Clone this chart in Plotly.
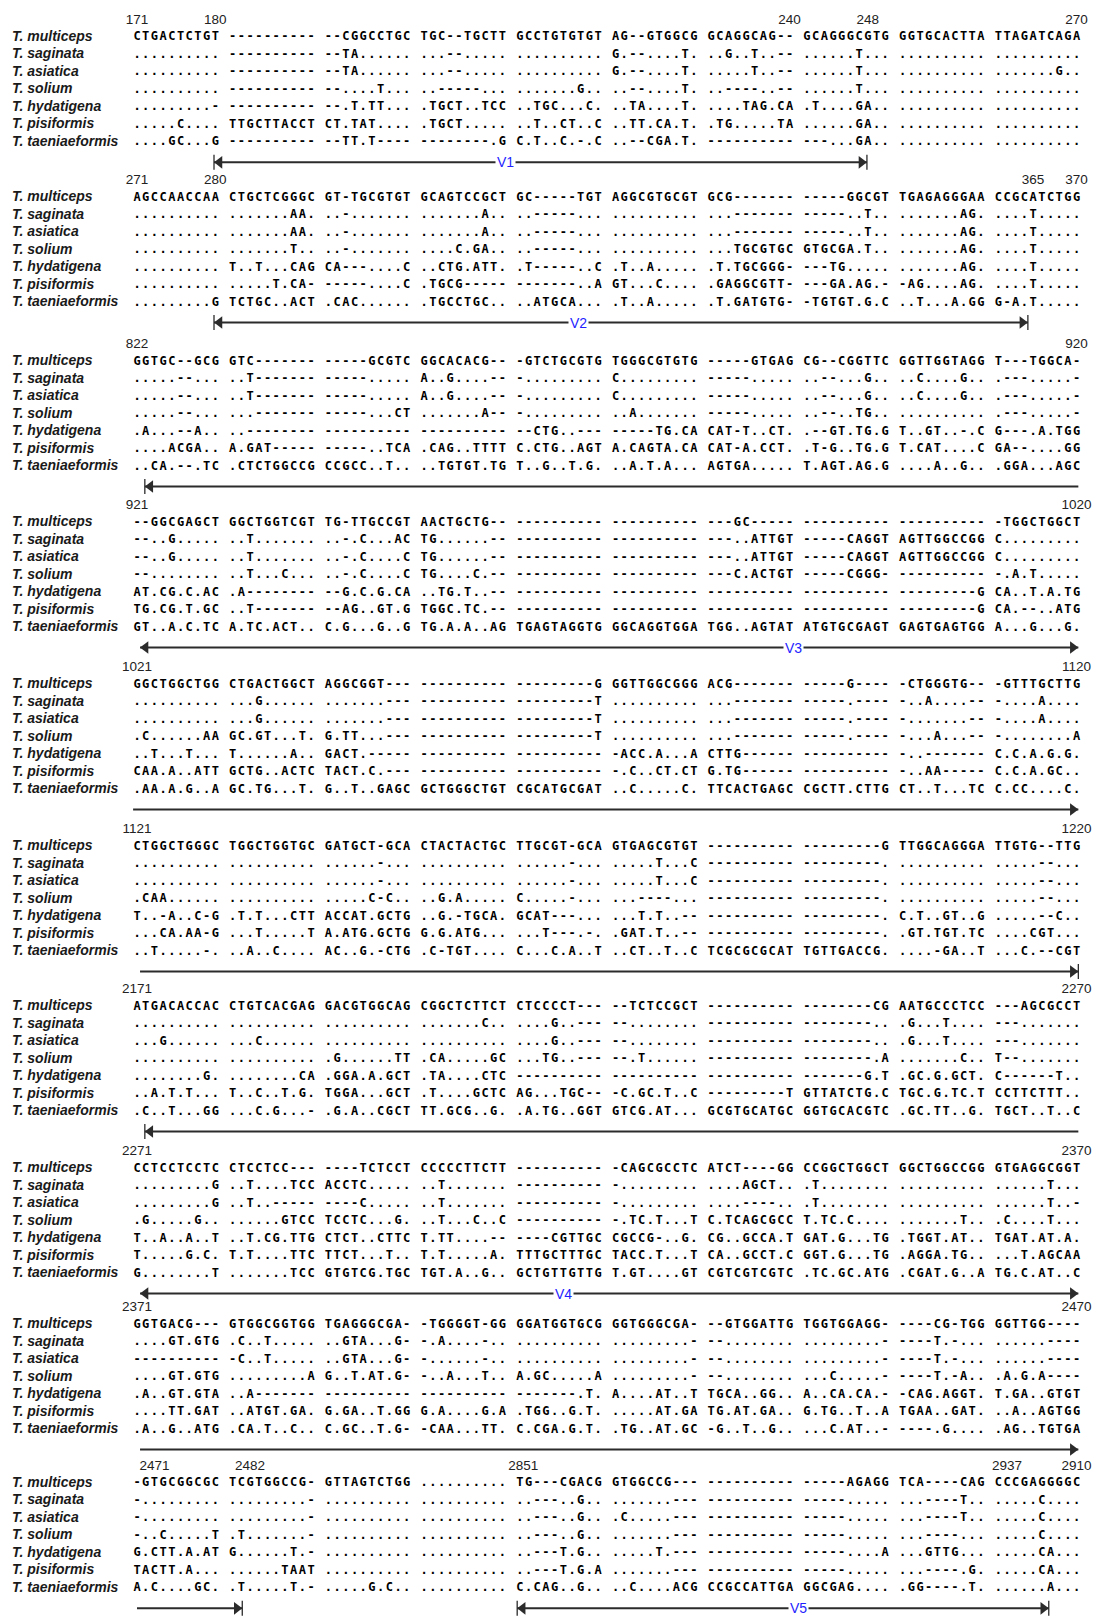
import plotly.graph_objects as go

# ---------------------------------------------------------------- data
SPECIES = [
    "T. multiceps", "T. saginata", "T. asiatica", "T. solium",
    "T. hydatigena", "T. pisiformis", "T. taeniaeformis",
]

# Aligned sequences, one block per panel, rows in SPECIES order.
# Groups of ten columns are separated by a single space.
BLOCK_1 = [
    "CTGACTCTGT ---------- --CGGCCTGC TGC--TGCTT GCCTGTGTGT AG--GTGGCG GCAGGCAG-- GCAGGGCGTG GGTGCACTTA TTAGATCAGA",
    ".......... ---------- --TA...... ...--..... .......... G.--....T. ..G..T..-- ......T... .......... ..........",
    ".......... ---------- --TA...... ...--..... .......... G.--....T. .....T..-- ......T... .......... .......G..",
    ".......... ---------- --....T... ..-----... .......G.. ..--....T. ..----..-- ......T... .......... ..........",
    ".........- ---------- --.T.TT... .TGCT..TCC ..TGC...C. ..TA....T. ....TAG.CA .T....GA.. .......... ..........",
    ".....C.... TTGCTTACCT CT.TAT.... .TGCT..... ..T..CT..C ..TT.CA.T. .TG.....TA ......GA.. .......... ..........",
    "....GC...G ---------- --TT.T---- --------.G C.T..C.-.C ..--CGA.T. ---------- ---...GA.. .......... ..........",
]
BLOCK_2 = [
    "AGCCAACCAA CTGCTCGGGC GT-TGCGTGT GCAGTCCGCT GC-----TGT AGGCGTGCGT GCG------- -----GGCGT TGAGAGGGAA CCGCATCTGG",
    ".......... .......AA. ..-....... .......A.. ..-----... .......... ...------- -----..T.. .......AG. ....T.....",
    ".......... .......AA. ..-....... .......A.. ..-----... .......... ...------- -----..T.. .......AG. ....T.....",
    ".......... .......T.. ..-....... ....C.GA.. ..-----... .......... ...TGCGTGC GTGCGA.T.. .......AG. ....T.....",
    ".......... T..T...CAG CA---....C ..CTG.ATT. .T-----..C .T..A..... .T.TGCGGG- ---TG..... .......AG. ....T.....",
    ".......... .....T.CA- -----....C .TGCG----- -------..A GT...C.... .GAGGCGTT- ---GA.AG.- -AG....AG. ....T.....",
    ".........G TCTGC..ACT .CAC...... .TGCCTGC.. ..ATGCA... .T..A..... .T.GATGTG- -TGTGT.G.C ..T...A.GG G-A.T.....",
]
BLOCK_3 = [
    "GGTGC--GCG GTC------- -----GCGTC GGCACACG-- -GTCTGCGTG TGGGCGTGTG -----GTGAG CG--CGGTTC GGTTGGTAGG T---TGGCA-",
    ".....--... ..T------- -----..... A..G....-- -......... C......... -----..... ..--...G.. ..C....G.. .---.....-",
    ".....--... ..T------- -----..... A..G....-- -......... C......... -----..... ..--...G.. ..C....G.. .---.....-",
    ".....--... ...------- -----...CT .......A-- -......... ..A....... -----..... ..--..TG.. .......... .---.....-",
    ".A...--A.. ..-------- ---------- ---------- --CTG..--- -----TG.CA CAT-T..CT. .--GT.TG.G T..GT..-.C G---.A.TGG",
    "....ACGA.. A.GAT----- -----..TCA .CAG..TTTT C.CTG..AGT A.CAGTA.CA CAT-A.CCT. .T-G..TG.G T.CAT....C GA--....GG",
    "..CA.--.TC .CTCTGGCCG CCGCC..T.. ..TGTGT.TG T..G..T.G. ..A.T.A... AGTGA..... T.AGT.AG.G ....A..G.. .GGA...AGC",
]
BLOCK_4 = [
    "--GGCGAGCT GGCTGGTCGT TG-TTGCCGT AACTGCTG-- ---------- ---------- ---GC----- ---------- ---------- -TGGCTGGCT",
    "--..G..... ..T....... ..-.C...AC TG......-- ---------- ---------- ---..ATTGT -----CAGGT AGTTGGCCGG C.........",
    "--..G..... ..T....... ..-.C....C TG......-- ---------- ---------- ---..ATTGT -----CAGGT AGTTGGCCGG C.........",
    "--........ ..T...C... ..-.C....C TG....C.-- ---------- ---------- ---C.ACTGT -----CGGG- ---------- -.A.T.....",
    "AT.CG.C.AC .A-------- --G.C.G.CA ..TG.T..-- ---------- ---------- ---------- ---------- ---------G CA..T.A.TG",
    "TG.CG.T.GC ..T------- --AG..GT.G TGGC.TC.-- ---------- ---------- ---------- ---------- ---------G CA.--..ATG",
    "GT..A.C.TC A.TC.ACT.. C.G...G..G TG.A.A..AG TGAGTAGGTG GGCAGGTGGA TGG..AGTAT ATGTGCGAGT GAGTGAGTGG A...G...G.",
]
BLOCK_5 = [
    "GGCTGGCTGG CTGACTGGCT AGGCGGT--- ---------- ---------G GGTTGGCGGG ACG------- -----G---- -CTGGGTG-- -GTTTGCTTG",
    ".......... ...G...... .......--- ---------- ---------T .......... ...------- -----.---- -..A....-- -....A....",
    ".......... ...G...... .......--- ---------- ---------T .......... ...------- -----.---- -.......-- -....A....",
    ".C......AA GC.GT...T. G.TT...--- ---------- ---------T .......... ...------- -----.---- -...A...-- -........A",
    "..T...T... T......A.. GACT.----- ---------- ---------- -ACC.A...A CTTG------ ---------- -..------- C.C.A.G.G.",
    "CAA.A..ATT GCTG..ACTC TACT.C.--- ---------- ---------- -.C..CT.CT G.TG------ ---------- -..AA----- C.C.A.GC..",
    ".AA.A.G..A GC.TG...T. G..T..GAGC GCTGGGCTGT CGCATGCGAT ..C.....C. TTCACTGAGC CGCTT.CTTG CT..T...TC C.CC....C.",
]
BLOCK_6 = [
    "CTGGCTGGGC TGGCTGGTGC GATGCT-GCA CTACTACTGC TTGCGT-GCA GTGAGCGTGT ---------- ---------G TTGGCAGGGA TTGTG--TTG",
    ".......... .......... ......-... .......... ......-... .....T...C ---------- ---------. .......... .....--...",
    ".......... .......... ......-... .......... ......-... .....T...C ---------- ---------. .......... .....--...",
    ".CAA...... .......... .....C-C.. ..G.A..... C.....-... ...----... ---------- ---------. .......... .....--...",
    "T..-A..C-G .T.T...CTT ACCAT.GCTG ..G.-TGCA. GCAT---... ...T.T..-- ---------- ---------. C.T..GT..G .....--C..",
    "...CA.AA-G ...T.....T A.ATG.GCTG G.G.ATG... ...T---.-. .GAT.T..-- ---------- ---------. .GT.TGT.TC ....CGT...",
    "..T.....-. ..A..C.... AC..G.-CTG .C-TGT.... C...C.A..T ..CT..T..C TCGCGCGCAT TGTTGACCG. ....-GA..T ...C.--CGT",
]
BLOCK_7 = [
    "ATGACACCAC CTGTCACGAG GACGTGGCAG CGGCTCTTCT CTCCCCT--- --TCTCCGCT ---------- --------CG AATGCCCTCC ---AGCGCCT",
    ".......... .......... .......... .......C.. ....G..--- --........ ---------- --------.. .G...T.... ---.......",
    "...G...... ...C...... .......... .......... ....G..--- --........ ---------- --------.. .G...T.... ---.......",
    ".......... .......... .G......TT .CA.....GC ...TG..--- --.T...... ---------- --------.A .......C.. T--.......",
    "........G. ........CA .GGA.A.GCT .TA....CTC ---------- ---------- ---------- -------G.T .GC.G.GCT. C------T..",
    "..A.T.T... T..C..T.G. TGGA...GCT .T....GCTC AG...TGC-- -C.GC.T..C ---------T GTTATCTG.C TGC.G.TC.T CCTTCTTT..",
    ".C..T...GG ...C.G...- .G.A..CGCT TT.GCG..G. .A.TG..GGT GTCG.AT... GCGTGCATGC GGTGCACGTC .GC.TT..G. TGCT..T..C",
]
BLOCK_8 = [
    "CCTCCTCCTC CTCCTCC--- ----TCTCCT CCCCCTTCTT ---------- -CAGCGCCTC ATCT----GG CCGGCTGGCT GGCTGGCCGG GTGAGGCGGT",
    ".........G ..T....TCC ACCTC..... ..T....... ---------- -......... ....AGCT.. .T........ .......... ......T...",
    ".........G ..T..----- ----C..... ..T....... ---------- -......... ....----.. .T........ .......... ......T..-",
    ".G.....G.. ......GTCC TCCTC...G. ..T...C..C ---------- -.TC.T...T C.TCAGCGCC T.TC.C.... .......T.. .C....T...",
    "T..A..A..T ..T.CG.TTG CTCT..CTTC T.TT....-- ----CGTTGC CGCCG-..G. CG..GCCA.T GAT.G...TG .TGGT.AT.. TGAT.AT.A.",
    "T.....G.C. T.T....TTC TTCT...T.. T.T.....A. TTTGCTTTGC TACC.T...T CA..GCCT.C GGT.G...TG .AGGA.TG.. ...T.AGCAA",
    "G........T .......TCC GTGTCG.TGC TGT.A..G.. GCTGTTGTTG T.GT....GT CGTCGTCGTC .TC.GC.ATG .CGAT.G..A TG.C.AT..C",
]
BLOCK_9 = [
    "GGTGACG--- GTGGCGGTGG TGAGGGCGA- -TGGGGT-GG GGATGGTGCG GGTGGGCGA- --GTGGATTG TGGTGGAGG- ----CG-TGG GGTTGG----",
    "....GT.GTG .C..T..... ..GTA...G- -.A....-.. .......... .........- --........ .........- ----T.-... ......----",
    "---------- -C..T..... ..GTA...G- -......-.. .......... .........- --........ .........- ----T.-... ......----",
    "....GT.GTG .........A G..T.AT.G- -..A...T.. A.GC.....A .........- --........ ...C.....- ----T.-A.. .A.G.A----",
    ".A..GT.GTA ..A------- ---------- ---------- -------.T. A....AT..T TGCA..GG.. A..CA.CA.- -CAG.AGGT. T.GA..GTGT",
    "....TT.GAT ..ATGT.GA. G.GA..T.GG G.A....G.A .TGG..G.T. .....AT.GA TG.AT.GA.. G.TG..T..A TGAA..GAT. ..A..AGTGG",
    ".A..G..ATG .CA.T..C.. C.GC..T.G- -CAA...TT. C.CGA.G.T. .TG..AT.GC -G..T..G.. ...C.AT..- ----.G.... .AG..TGTGA",
]
BLOCK_10 = [
    "-GTGCGGCGC TCGTGGCCG- GTTAGTCTGG .......... TG---CGACG GTGGCCG--- ---------- -----AGAGG TCA----CAG CCCGAGGGGC",
    "-......... .........- .......... .......... ..---..G.. .......--- ---------- -----..... ...----T.. .....C....",
    "-......... .........- .......... .......... ..---..G.. .C.....--- ---------- -----..... ...----T.. .....C....",
    "-..C.....T .T.......- .......... .......... ..---..G.. .......--- ---------- -----..... ...----... .....C....",
    "G.CTT.A.AT G......T.- .......... .......... ..---T.G.. .....T.--- ---------- -----....A ...GTTG... .....CA...",
    "TACTT.A... ......TAAT .......... .......... ..---T.G.A .......--- ---------- -----..... ...----.G. .....CA...",
    "A.C....GC. .T.....T.- .....G.C.. .......... C.CAG..G.. ..C....ACG CCGCCATTGA GGCGAG.... .GG----.T. ......A...",
]

# Alignment position numbers printed above each block
POSITIONS_1 = ["171", "180", "240", "248", "270"]
POSITIONS_2 = ["271", "280", "365", "370"]
POSITIONS_3 = ["822", "920"]
POSITIONS_4 = ["921", "1020"]
POSITIONS_5 = ["1021", "1120"]
POSITIONS_6 = ["1121", "1220"]
POSITIONS_7 = ["2171", "2270"]
POSITIONS_8 = ["2271", "2370"]
POSITIONS_9 = ["2371", "2470"]
POSITIONS_10 = ["2471", "2482", "2851", "2937", "2910"]

# Variable regions marked beneath the blocks
REGION_NAMES = ["V1", "V2", "V3", "V4", "V5"]

BLOCKS = [BLOCK_1, BLOCK_2, BLOCK_3, BLOCK_4, BLOCK_5,
          BLOCK_6, BLOCK_7, BLOCK_8, BLOCK_9, BLOCK_10]
POSITIONS = [POSITIONS_1, POSITIONS_2, POSITIONS_3, POSITIONS_4, POSITIONS_5,
             POSITIONS_6, POSITIONS_7, POSITIONS_8, POSITIONS_9, POSITIONS_10]

# ---------------------------------------------------------------- layout
W, H = 1099, 1618
X0, DX = 137.0, 8.7          # centre of first column, column pitch (px)
ROW_PITCH = 17.5
BLOCK_TOP = [37.3, 197.5, 361.5, 522.5, 684.5, 846.5, 1006.5, 1168.5, 1324.5, 1483.3]
NUM_OFFSET = -16.6
ARROW_OFFSET = 125.0
NAME_X = 12.0

# column (in text slots) over which each position number is centred
POSITION_SLOTS = [
    [0, 9, 75, 84, 108],
    [0, 9, 103, 108],
    [0, 108], [0, 108], [0, 108], [0, 108], [0, 108], [0, 108], [0, 108],
    [2, 13, 44.4, 100, 108],
]

# bracket segments per block: (start slot, end slot, left end, right end, region, label slot)
SEGMENTS = [
    [(8.85, 83.9, "bar", "bar", 0, 42.3)],
    [(8.85, 102.4, "bar", "bar", 1, 50.8)],
    [(0.9, 108.2, "bar", "none", None, None)],
    [(0.35, 108.2, "head", "head", 2, 75.5)],
    [(-0.45, 108.2, "none", "head", None, None)],
    [(0.35, 108.2, "none", "bar", None, None)],
    [(0.9, 108.2, "bar", "none", None, None)],
    [(0.35, 108.2, "head", "head", 3, 49.0)],
    [(0.35, 108.2, "none", "head", None, None)],
    [(0.0, 12.1, "none", "bar", None, None),
     (43.7, 104.8, "bar", "bar", 4, 76.0)],
]


def sx(slot):
    return X0 + slot * DX


fig = go.Figure()

# ---- region bracket shafts (drawn first, under the labels)
LINE_COL = "#2b2b2b"
shaft_x, shaft_y = [], []
bar_x, bar_y = [], []
lh_x, lh_y, rh_x, rh_y = [], [], [], []
HEAD = 5.5
BAR_H = 7.5
for b, segs in enumerate(SEGMENTS):
    y = BLOCK_TOP[b] + ARROW_OFFSET
    for s0, s1, left, right, region, lslot in segs:
        x0, x1 = sx(s0), sx(s1)
        shaft_x += [x0, x1, None]
        shaft_y += [y, y, None]
        if left in ("bar", "head"):
            lh_x.append(x0 + HEAD)
            lh_y.append(y)
        if right in ("bar", "head"):
            rh_x.append(x1 - HEAD)
            rh_y.append(y)
        if left == "bar":
            bar_x += [x0, x0, None]
            bar_y += [y - BAR_H, y + BAR_H, None]
        if right == "bar":
            bar_x += [x1, x1, None]
            bar_y += [y - BAR_H, y + BAR_H, None]
        if region is not None:
            fig.add_annotation(
                x=sx(lslot), y=y, text=REGION_NAMES[region], showarrow=False,
                font=dict(family="Liberation Sans, Arial, sans-serif", size=14, color="#1f1fff"),
                bgcolor="#ffffff", borderpad=1, xanchor="center", yanchor="middle",
            )

fig.add_trace(go.Scatter(x=shaft_x, y=shaft_y, mode="lines",
                         line=dict(color=LINE_COL, width=2), hoverinfo="skip"))
fig.add_trace(go.Scatter(x=bar_x, y=bar_y, mode="lines",
                         line=dict(color=LINE_COL, width=1.3), hoverinfo="skip"))
fig.add_trace(go.Scatter(x=lh_x, y=lh_y, mode="markers", hoverinfo="skip",
                         marker=dict(symbol="triangle-left", size=11, color=LINE_COL,
                                     line=dict(width=0))))
fig.add_trace(go.Scatter(x=rh_x, y=rh_y, mode="markers", hoverinfo="skip",
                         marker=dict(symbol="triangle-right", size=11, color=LINE_COL,
                                     line=dict(width=0))))

# ---- sequence characters, one text mark per alignment column
cx, cy, ct = [], [], []
for b, block in enumerate(BLOCKS):
    for r, row in enumerate(block):
        y = BLOCK_TOP[b] + r * ROW_PITCH
        for i, ch in enumerate(row):
            if ch != " ":
                cx.append(sx(i))
                cy.append(y)
                ct.append(ch)
fig.add_trace(go.Scatter(
    x=cx, y=cy, text=ct, mode="text", textposition="middle center",
    textfont=dict(family="DejaVu Sans Mono", size=12, color="#000000", weight="bold"),
    hoverinfo="skip",
))

# ---- species names
nx, ny, nt = [], [], []
for b in range(len(BLOCKS)):
    for r, name in enumerate(SPECIES):
        nx.append(NAME_X)
        ny.append(BLOCK_TOP[b] + r * ROW_PITCH)
        nt.append(name)
fig.add_trace(go.Scatter(
    x=nx, y=ny, text=nt, mode="text", textposition="middle right",
    textfont=dict(family="Liberation Sans, Arial, sans-serif", size=14,
                  color="#1a1a1a", style="italic", weight="bold"),
    hoverinfo="skip",
))

# ---- position numbers
px_, py_, pt_ = [], [], []
for b, labels in enumerate(POSITIONS):
    for lab, slot in zip(labels, POSITION_SLOTS[b]):
        px_.append(sx(slot))
        py_.append(BLOCK_TOP[b] + NUM_OFFSET)
        pt_.append(lab)
fig.add_trace(go.Scatter(
    x=px_, y=py_, text=pt_, mode="text", textposition="middle center",
    textfont=dict(family="Liberation Sans, Arial, sans-serif", size=13.5, color="#222222"),
    hoverinfo="skip",
))

fig.update_layout(
    width=W, height=H,
    margin=dict(l=0, r=0, t=0, b=0),
    paper_bgcolor="#ffffff", plot_bgcolor="#ffffff",
    showlegend=False,
    xaxis=dict(range=[0, W], visible=False, fixedrange=True),
    yaxis=dict(range=[H, 0], visible=False, fixedrange=True),
)

fig.write_html("out.html", config={"displayModeBar": False})
